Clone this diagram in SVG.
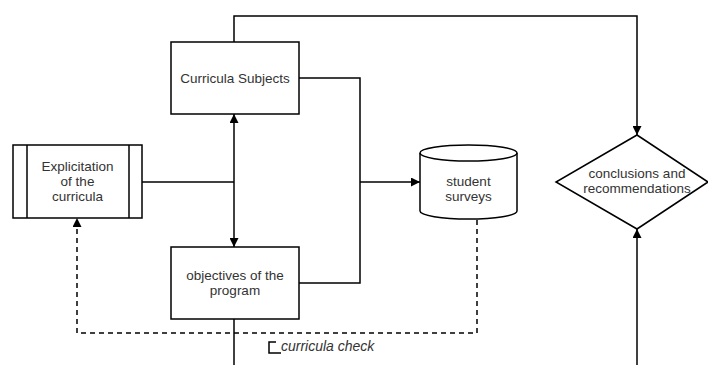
<svg xmlns="http://www.w3.org/2000/svg" width="708" height="365" viewBox="0 0 708 365">
<style>
.box{fill:#fff;stroke:#000;stroke-width:1.5}
.ln{fill:none;stroke:#000;stroke-width:1.5}
.dash{fill:none;stroke:#000;stroke-width:1.5;stroke-dasharray:5 4}
text{font-family:"Liberation Sans",Arial,sans-serif;font-size:13.5px;fill:#333;text-anchor:middle}
.it{font-style:italic;text-anchor:start;font-size:14px}
</style>
<defs>
<marker id="ah" viewBox="0 0 10 10" refX="10" refY="5" markerWidth="9" markerHeight="9" markerUnits="userSpaceOnUse" orient="auto-start-reverse">
<path d="M0,0 L10,5 L0,10 Z" fill="#000"/>
</marker>
</defs>
<rect width="708" height="365" fill="#fff"/>
<g id="connectors">
<polyline class="ln" points="234,42 234,16 637,16 637,135" marker-end="url(#ah)"/>
<line class="ln" x1="142" y1="182" x2="234" y2="182"/>
<line class="ln" x1="234" y1="114" x2="234" y2="247" marker-start="url(#ah)" marker-end="url(#ah)"/>
<polyline class="ln" points="299,78 360,78 360,283 299,283"/>
<line class="ln" x1="360" y1="182" x2="420" y2="182" marker-end="url(#ah)"/>
<line class="ln" x1="234" y1="319" x2="234" y2="365"/>
<line class="ln" x1="637" y1="365" x2="637" y2="229" marker-end="url(#ah)"/>
<polyline class="dash" points="477,220 477,333 77,333 77,218" marker-end="url(#ah)"/>
<polyline class="ln" stroke-width="1.2" points="276,342 269,342 269,353 281,353"/>
<text class="it" x="281" y="351">curricula check</text>
</g>
<g id="explicitation">
<rect class="box" x="13" y="145" width="129" height="73"/>
<line class="ln" x1="27" y1="145" x2="27" y2="218"/>
<line class="ln" x1="129" y1="145" x2="129" y2="218"/>
<text x="77.5" y="171">Explicitation</text>
<text x="77.5" y="186">of the</text>
<text x="77.5" y="201">curricula</text>
</g>
<g id="curricula-subjects">
<rect class="box" x="171" y="42" width="128" height="72"/>
<text x="235" y="83">Curricula Subjects</text>
</g>
<g id="objectives">
<rect class="box" x="171" y="247" width="128" height="72"/>
<text x="235" y="280">objectives of the</text>
<text x="235" y="295">program</text>
</g>
<g id="student-surveys">
<path class="box" d="M420,153 L420,211 A48.5,8 0 0 0 517,211 L517,153 A48.5,8 0 0 0 420,153 Z"/>
<path class="ln" d="M420,153 A48.5,8 0 0 0 517,153"/>
<text x="468.5" y="186">student</text>
<text x="468.5" y="201">surveys</text>
</g>
<g id="conclusions">
<polygon class="box" points="637,135 708,182 637,229 556,182"/>
<text x="637" y="178">conclusions and</text>
<text x="637" y="193">recommendations</text>
</g>
</svg>
